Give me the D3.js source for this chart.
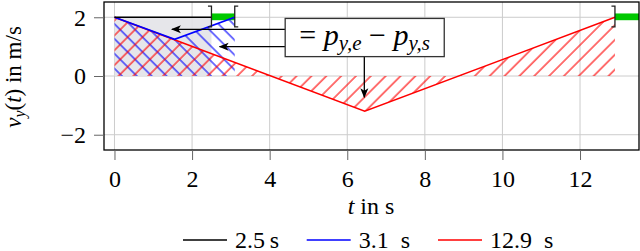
<!DOCTYPE html>
<html>
<head>
<meta charset="utf-8">
<script src="https://cdn.jsdelivr.net/npm/d3@7"></script>
<style>
  body { margin: 0; background: #fff; }
  svg text, svg tspan { font-family: 'Liberation Serif', 'Times New Roman' !important; }
</style>
</head>
<body>
<svg id="chart" width="640" height="251" font-family="Liberation Serif"></svg>
<script>
// durations / velocity profiles
var tBlack = [0, 2.5],        vBlack = [2, 2];
var tBlue  = [0, 1.55, 3.1],  vBlue  = [2, 1.25, 2];
var tRed   = [0, 6.45, 12.9], vRed   = [2, -1.2, 2];

var legendNames  = ["2.5\u2009s", "3.1\u2002s", "12.9\u2002s"];
var legendColors = ["#000", "#0000ff", "#ff0000"];

var xTicks = [0, 2, 4, 6, 8, 10, 12];
var yTicks = [-2, 0, 2];

var serif = "'Liberation Serif'";

var svg = d3.select("#chart");

var x = d3.scaleLinear().domain([-0.27, 13.52]).range([104, 639]);
var y = d3.scaleLinear().domain([-2.52, 2.52]).range([150, 2]);

function pts(ts, vs) { return ts.map(function(t, i) { return [t, vs[i]]; }); }

// hatch patterns
var defs = svg.append("defs");
function hatch(id, color, angle) {
  var p = defs.append("pattern")
      .attr("id", id)
      .attr("patternUnits", "userSpaceOnUse")
      .attr("width", 10.5).attr("height", 10.5)
      .attr("patternTransform", "rotate(" + angle + ")");
  p.append("line")
      .attr("x1", 1).attr("y1", 0).attr("x2", 1).attr("y2", 10.5)
      .attr("stroke", color).attr("stroke-width", 1.1);
}
hatch("hatchRed", "#ff0000", 45);
hatch("hatchBlue", "#0000ff", -45);

defs.append("marker")
    .attr("id", "arr")
    .attr("viewBox", "0 0 10 10")
    .attr("refX", 9).attr("refY", 5)
    .attr("markerWidth", 10).attr("markerHeight", 10)
    .attr("markerUnits", "userSpaceOnUse")
    .attr("orient", "auto")
  .append("path")
    .attr("d", "M0,1 L10,5 L0,9 L2.5,5 Z")
    .attr("fill", "#000");

// grid
var grid = svg.append("g");
grid.selectAll(".gx").data(xTicks).enter().append("line")
    .attr("x1", function(d) { return x(d); }).attr("x2", function(d) { return x(d); })
    .attr("y1", y.range()[0]).attr("y2", y.range()[1])
    .attr("stroke", "#cccccc").attr("stroke-width", 1);
grid.selectAll(".gy").data(yTicks).enter().append("line")
    .attr("y1", function(d) { return y(d); }).attr("y2", function(d) { return y(d); })
    .attr("x1", x.range()[0]).attr("x2", x.range()[1])
    .attr("stroke", "#cccccc").attr("stroke-width", 1);

var area = d3.area()
    .x(function(d) { return x(d[0]); })
    .y0(y(0))
    .y1(function(d) { return y(d[1]); });

var line = d3.line()
    .x(function(d) { return x(d[0]); })
    .y(function(d) { return y(d[1]); });

svg.append("path").datum(pts(tBlack, vBlack))
    .attr("d", area).attr("fill", "#e3e3e8").attr("opacity", 0.9);
svg.append("path").datum(pts(tBlue, vBlue))
    .attr("d", area).attr("fill", "url(#hatchBlue)");
svg.append("path").datum(pts(tRed, vRed))
    .attr("d", area).attr("fill", "url(#hatchRed)");

// green duration gaps
var gaps = [[tBlack[1], tBlue[2]], [tRed[2], 13.52]];
svg.selectAll(".gap").data(gaps).enter().append("rect")
    .attr("x", function(d) { return x(d[0]); })
    .attr("width", function(d) { return x(d[1]) - x(d[0]); })
    .attr("y", y(2.13))
    .attr("height", y(1.9) - y(2.13))
    .attr("fill", "#00c800");

svg.append("path").datum(pts(tRed, vRed))
    .attr("d", line).attr("fill", "none").attr("stroke", "#ff0000").attr("stroke-width", 1.5);
svg.append("path").datum(pts(tBlue, vBlue))
    .attr("d", line).attr("fill", "none").attr("stroke", "#0000ff").attr("stroke-width", 1.8);
svg.append("path").datum(pts(tBlack, vBlack))
    .attr("d", line).attr("fill", "none").attr("stroke", "#000").attr("stroke-width", 1.4);

// brackets at the end times
var bTop = y(2.38), bBot = y(1.67);
function bracket(t, dir) {
  var bx = x(t);
  svg.append("path")
      .attr("d", "M" + (bx + dir * 3.5) + "," + bTop + "H" + bx + "V" + bBot + "H" + (bx + dir * 3.5))
      .attr("fill", "none").attr("stroke", "#222").attr("stroke-width", 1.3);
}
bracket(tBlack[1], -1);
bracket(tBlue[2], 1);
bracket(tRed[2], -1);

// annotation arrows + box
function arrow(t1, v1, t2, v2) {
  svg.append("line")
      .attr("x1", x(t1)).attr("y1", y(v1)).attr("x2", x(t2)).attr("y2", y(v2))
      .attr("stroke", "#000").attr("stroke-width", 1.3)
      .attr("marker-end", "url(#arr)");
}
arrow(4.4, 1.59, 1.48, 1.59);
arrow(4.4, 1.0, 2.71, 1.0);
arrow(6.44, 0.66, 6.44, -0.72);

svg.append("rect")
    .attr("x", x(4.4)).attr("y", y(1.96))
    .attr("width", x(8.5) - x(4.4)).attr("height", y(0.66) - y(1.96))
    .attr("fill", "#fff").attr("stroke", "#333").attr("stroke-width", 1.3);

var eq = svg.append("text")
    .attr("x", (x(4.4) + x(8.5)) / 2).attr("y", 45)
    .attr("text-anchor", "middle")
    .attr("font-family", "Liberation Serif")
    .attr("font-size", 30)
    .style("font-family", serif);
eq.append("tspan").text("= ");
eq.append("tspan").attr("font-style", "italic").text("p");
eq.append("tspan").attr("font-size", 21).attr("dy", 5).attr("font-style", "italic").text("y,e");
eq.append("tspan").attr("dy", -5).text(" \u2212 ");
eq.append("tspan").attr("font-style", "italic").text("p");
eq.append("tspan").attr("font-size", 21).attr("dy", 5).attr("font-style", "italic").text("y,s");

// frame
svg.append("rect")
    .attr("x", x.range()[0]).attr("y", y.range()[1])
    .attr("width", x.range()[1] - x.range()[0])
    .attr("height", y.range()[0] - y.range()[1])
    .attr("fill", "none").attr("stroke", "#000").attr("stroke-width", 1.3);

// axes
var xAxis = d3.axisBottom(x).tickValues(xTicks).tickSizeInner(10).tickSizeOuter(0).tickPadding(6);
var yAxis = d3.axisLeft(y).tickValues(yTicks).tickSizeInner(10).tickSizeOuter(0).tickPadding(8)
    .tickFormat(function(d) { return d < 0 ? "\u2212" + Math.abs(d) : d; });

var gx = svg.append("g").attr("transform", "translate(0," + y.range()[0] + ")").call(xAxis);
var gy = svg.append("g").attr("transform", "translate(" + x.range()[0] + ",0)").call(yAxis);
[gx, gy].forEach(function(g) {
  g.attr("font-family", "Liberation Serif").attr("font-size", 24);
  g.select(".domain").remove();
  g.selectAll(".tick line").attr("stroke", "#666");
  g.selectAll(".tick text").attr("fill", "#000").style("font-family", serif);
});
gx.selectAll(".tick text").attr("dy", "0.87em");
gy.selectAll(".tick text").attr("dy", "0.33em");

// axis labels
var xl = svg.append("text").attr("x", 371).attr("y", 214)
    .attr("text-anchor", "middle").attr("font-size", 24)
    .attr("font-family", "Liberation Serif")
    .style("font-family", serif);
xl.append("tspan").attr("font-style", "italic").text("t");
xl.append("tspan").text(" in s");

var yl = svg.append("text")
    .attr("transform", "translate(21,77) rotate(-90)")
    .attr("text-anchor", "middle").attr("font-size", 23)
    .attr("font-family", "Liberation Serif")
    .style("font-family", serif);
yl.append("tspan").attr("font-style", "italic").text("v");
yl.append("tspan").attr("font-style", "italic").attr("font-size", 16).attr("dy", 4).text("y");
yl.append("tspan").attr("dy", -4).text("(");
yl.append("tspan").attr("font-style", "italic").text("t");
yl.append("tspan").text(") in m/s");

// legend
var legX = [183, 306.7, 438];
var leg = svg.selectAll(".leg").data(legendNames).enter().append("g")
    .attr("transform", function(d, i) { return "translate(" + legX[i] + ",240)"; });
leg.append("line")
    .attr("x1", 0).attr("x2", 44).attr("y1", 0).attr("y2", 0)
    .attr("stroke", function(d, i) { return legendColors[i]; }).attr("stroke-width", 1.4);
leg.append("text")
    .attr("x", 52).attr("y", 8)
    .attr("font-size", 24)
    .attr("font-family", "Liberation Serif")
    .style("font-family", serif)
    .text(function(d) { return d; });
</script>
</body>
</html>
